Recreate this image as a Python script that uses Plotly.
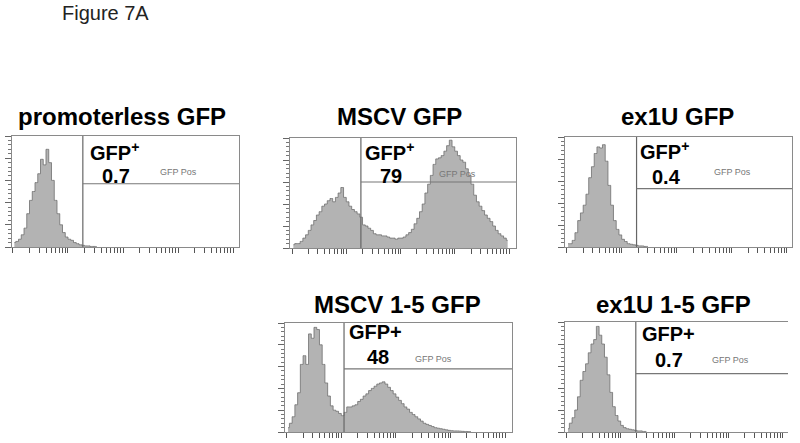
import numpy as np
import plotly.graph_objects as go

# histogram counts (% of panel height), bins of 0.05 log-decade starting at 10^0
promoterless = [4, 5, 7, 11, 17, 30, 42, 50, 58, 66, 79, 74, 88, 76, 60, 42, 30, 20, 13, 9,
                7, 6, 4, 3, 2, 1.5, 1, 1, 0.5, 0.5, 0.3]
mscv = [3, 4, 4, 6, 9, 12, 16, 21, 25, 30, 33, 38, 40, 43, 45, 42, 46, 50, 55, 46,
        42, 38, 35, 33, 31, 28, 21, 20, 18, 16, 13, 12, 12, 11, 11, 10, 9, 9, 8, 9,
        9, 10, 12, 14, 17, 22, 27, 33, 40, 50, 58, 66, 76, 81, 82, 84, 88, 93, 98, 92,
        88, 84, 80, 78, 72, 66, 58, 48, 42, 38, 34, 30, 27, 24, 20, 16, 13, 11, 9, 7]
ex1u = [3, 3, 6, 13, 24, 31, 38, 48, 63, 73, 85, 91, 90, 93, 78, 56, 38, 24, 16, 11,
        7, 5, 3, 2.5, 2, 1.5, 1, 1, 0.5, 0.5]
mscv_15 = [4, 8, 14, 25, 36, 62, 70, 62, 90, 86, 96, 94, 80, 62, 45, 33, 24, 20, 19, 17,
           15, 18, 23, 23, 24, 25, 28, 30, 33, 35, 38, 40, 42, 44, 45, 46, 44, 41, 38, 35,
           32, 29, 26, 23, 21, 18, 16, 14, 12, 10, 8, 7, 6, 5, 4, 3.5, 3, 2.5, 2, 1.5,
           1.2, 1, 1, 0.8, 0.6, 0.5, 0.4, 0.3]
ex1u_15 = [3, 8, 13, 20, 32, 47, 55, 62, 72, 80, 84, 96, 88, 80, 68, 52, 36, 23, 15, 10,
           6, 4, 3, 2.5, 2, 1.5, 1, 1, 0.5, 0.5]

titles = ["promoterless GFP", "MSCV GFP", "ex1U GFP", "MSCV 1-5 GFP", "ex1U 1-5 GFP"]
gfp_labels = ["GFP<sup>+</sup>", "GFP<sup>+</sup>", "GFP<sup>+</sup>", "GFP+", "GFP+"]
percent_pos = ["0.7", "79", "0.4", "48", "0.7"]
gate_log = [1.27, 1.27, 1.27, 1.05, 1.28]
gate_level = [57, 60, 53, 58, 53]

counts = [promoterless, mscv, ex1u, mscv_15, ex1u_15]

W, H = 800, 443
BIN = 0.05

# panel frames in pixels: left, right, top, bottom ; x range in log units
boxes = [(12, 239, 136, 247), (290, 516, 138, 248), (565, 792, 137, 247),
         (285, 512, 323, 432), (565, 788, 322, 432)]
xranges = [(-0.018, 4.109), (-0.037, 4.129), (-0.031, 4.096), (-0.031, 4.126), (-0.031, 4.098)]
# title centre (x, y), label left/centre positions
title_pos = [(122, 116), (399, 116), (677, 116), (397, 304), (673, 304)]
lab_pos = [(88, 151), (363, 151), (638, 150), (347, 332), (640, 334)]
val_pos = [(100, 176), (378, 176), (650, 177), (365, 357), (653, 360)]
pos_pos = [(158, 172), (437, 174), (712, 172), (413, 359), (710, 360)]


def px(x):
    return x / W


def py(y):
    return 1 - y / H


tickvals = [d + np.log10(k) for d in range(4) for k in range(1, 10)] + [4]

fig = go.Figure()
annotations = []
shapes = []
frame_col = "#8a8a8a"

for i in range(5):
    n = str(i + 1) if i > 0 else ""
    xa, ya = "x" + n, "y" + n
    vals = counts[i]
    centers = BIN / 2 + BIN * np.arange(len(vals))
    fig.add_trace(go.Scatter(x=centers, y=vals, xaxis=xa, yaxis=ya, mode="lines",
                             line=dict(color="#6f6f6f", width=0.8, shape="hvh"),
                             fill="tozeroy", fillcolor="#b3b3b3", showlegend=False,
                             hoverinfo="skip"))
    l, r, t, b = boxes[i]
    fig.update_layout(**{
        "xaxis" + n: dict(domain=[px(l), px(r)], range=list(xranges[i]), anchor=ya,
                          showgrid=False, zeroline=False, showline=True, mirror=True,
                          linecolor=frame_col, linewidth=1, tickvals=tickvals,
                          ticks="outside", ticklen=5, tickcolor="#555", tickwidth=1,
                          showticklabels=False),
        "yaxis" + n: dict(domain=[py(b), py(t)], range=[0, 100], anchor=xa,
                          showgrid=False, zeroline=False, showline=True,
                          mirror=(i != 4), linecolor=frame_col, linewidth=1,
                          dtick=20, ticks="outside", ticklen=6, tickcolor="#666",
                          showticklabels=False,
                          minor=dict(dtick=4, ticks="outside", ticklen=3, tickcolor="#777")),
    })
    # gate
    shapes.append(dict(type="line", xref=xa, yref=ya, x0=gate_log[i], x1=gate_log[i],
                       y0=0, y1=100, line=dict(color="#666", width=1.2)))
    shapes.append(dict(type="line", xref=xa, yref=ya, x0=gate_log[i], x1=xranges[i][1],
                       y0=gate_level[i], y1=gate_level[i], line=dict(color="#777", width=1.2)))

    tx, ty = title_pos[i]
    annotations.append(dict(text="<b>" + titles[i] + "</b>", x=px(tx), y=py(ty),
                            xref="paper", yref="paper", xanchor="center", yanchor="middle",
                            showarrow=False, font=dict(size=24, color="black")))
    lx, ly = lab_pos[i]
    annotations.append(dict(text="<b>" + gfp_labels[i] + "</b>", x=px(lx), y=py(ly),
                            xref="paper", yref="paper", xanchor="left", yanchor="middle",
                            showarrow=False, font=dict(size=20, color="black")))
    vx, vy = val_pos[i]
    annotations.append(dict(text="<b>" + percent_pos[i] + "</b>", x=px(vx), y=py(vy),
                            xref="paper", yref="paper", xanchor="left", yanchor="middle",
                            showarrow=False, font=dict(size=20, color="black")))
    gx, gy = pos_pos[i]
    annotations.append(dict(text="GFP Pos", x=px(gx), y=py(gy),
                            xref="paper", yref="paper", xanchor="left", yanchor="middle",
                            showarrow=False, font=dict(size=9, color="#777")))

annotations.append(dict(text="Figure 7A", x=px(60), y=py(13), xref="paper", yref="paper",
                        xanchor="left", yanchor="middle", showarrow=False,
                        font=dict(size=20, color="#222")))

fig.update_layout(width=W, height=H, margin=dict(l=0, r=0, t=0, b=0),
                  paper_bgcolor="white", plot_bgcolor="white",
                  font=dict(family="Liberation Sans, Arial, sans-serif"),
                  annotations=annotations, shapes=shapes)

# drop the default page margin so the figure sits at the window origin
fig.write_html("out.html", config={"displayModeBar": False},
               post_script="document.body.style.margin='0';")
